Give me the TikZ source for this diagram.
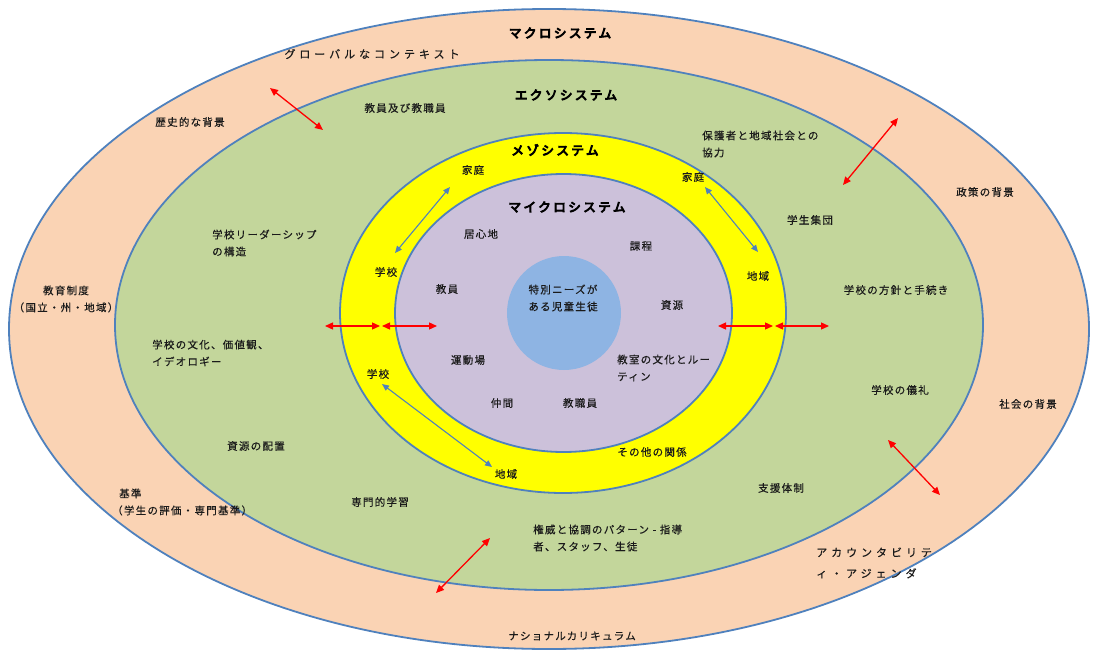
\documentclass[tikz,border=0pt]{standalone}
\usepackage{fontspec}
\setmainfont{Noto Sans CJK JP}
\newfontfamily\jptxt[LetterSpace=12,FakeBold=0.4]{Noto Sans CJK JP}
\newfontfamily\jpwide[LetterSpace=36,FakeBold=0.4]{Noto Sans CJK JP}
\newfontfamily\jphead[LetterSpace=20,FakeBold=7]{Noto Sans CJK JP}
\usetikzlibrary{arrows.meta}
\definecolor{macro}{HTML}{FAD3B4}
\definecolor{exo}{HTML}{C3D69B}
\definecolor{meso}{HTML}{FFFF00}
\definecolor{micro}{HTML}{CCC1DA}
\definecolor{core}{HTML}{8EB4E3}
\definecolor{rim}{HTML}{4F81BD}
\definecolor{ink}{HTML}{1A1A1A}
\begin{document}
\begin{tikzpicture}[x=1pt,y=-1pt,
  ring/.style={draw=rim,line width=1.8pt},
  txt/.style={font=\jptxt\fontsize{10.5}{17}\selectfont,text=ink,inner sep=0pt},
  wide/.style={font=\jpwide\fontsize{11}{21}\selectfont,text=ink,inner sep=0pt},
  head/.style={font=\jphead\fontsize{12.5}{14}\selectfont,text=black,inner sep=0pt},
  redarrow/.style={red,line width=1.3pt,{Triangle[width=7pt,length=8pt]}-{Triangle[width=7pt,length=8pt]}},
  bluearrow/.style={rim,line width=1.1pt,{Triangle[width=6pt,length=7pt]}-{Triangle[width=6pt,length=7pt]}}]
\useasboundingbox (0,0) rectangle (1094,650);
\fill[white] (0,0) rectangle (1094,650);
% rings
\draw[ring,fill=macro] (549,329) ellipse [x radius=540,y radius=320];
\draw[ring,fill=exo] (549,325) ellipse [x radius=434,y radius=265];
\draw[ring,fill=meso] (563,313) ellipse [x radius=223,y radius=180];
\draw[ring,fill=micro] (563.5,313) ellipse [x radius=168.5,y radius=139];
\fill[core] (564,313) circle [radius=57];
% headings
\node[head] (macroT) at (560,33) {マクロシステム};
\node[head] (exoT) at (566,95) {エクソシステム};
\node[head] (mesoT) at (555,150) {メゾシステム};
\node[head] (microT) at (567,207) {マイクロシステム};
% macro texts
\node[wide] (global) at (372,54) {グローバルなコンテキスト};
\node[txt] (hist) at (190,122) {歴史的な背景};
\node[txt] (policy) at (985,192) {政策の背景};
\node[txt,align=center] (edsys) at (66,299) {教育制度\\（国立・州・地域）};
\node[txt] (social) at (1028,404) {社会の背景};
\node[txt,align=left,anchor=west] (stand) at (112,502) {\hspace*{7pt}基準\\（学生の評価・専門基準）};
\node[wide,align=left,anchor=west] (account) at (816,563) {アカウンタビリテ\\ィ・アジェンダ};
\node[txt] (natcur) at (572,636) {ナショナルカリキュラム};
% exo texts
\node[txt] (staff) at (405,108) {教員及び教職員};
\node[txt,align=left,anchor=west] (coop) at (702,144) {保護者と地域社会との\\協力};
\node[txt] (group) at (810,220) {学生集団};
\node[txt,align=left,anchor=west] (lead) at (212,243) {学校リーダーシップ\\の構造};
\node[txt] (proc) at (896,290) {学校の方針と手続き};
\node[txt,align=left,anchor=west] (culture) at (152,353) {学校の文化、価値観、\\イデオロギー};
\node[txt] (rites) at (900,390) {学校の儀礼};
\node[txt] (alloc) at (256,446) {資源の配置};
\node[txt] (support) at (781,488) {支援体制};
\node[txt] (prof) at (380,502) {専門的学習};
\node[txt,align=left,anchor=west] (auth) at (533,538) {権威と協調のパターン - 指導\\者、スタッフ、生徒};
% meso texts
\node[txt] (home1) at (473,170) {家庭};
\node[txt] (home2) at (693,177) {家庭};
\node[txt] (school1) at (386,272) {学校};
\node[txt] (area1) at (758,276) {地域};
\node[txt] (school2) at (378,374) {学校};
\node[txt] (area2) at (506,474) {地域};
\node[txt] (other) at (652,452) {その他の関係};
% micro texts
\node[txt] (comfort) at (481,234) {居心地};
\node[txt] (course) at (641,246) {課程};
\node[txt] (teach) at (447,289) {教員};
\node[txt] (res) at (672,305) {資源};
\node[txt] (play) at (468,360) {運動場};
\node[txt,align=left,anchor=west] (class) at (617,368) {教室の文化とルー\\ティン};
\node[txt] (peer) at (502,403) {仲間};
\node[txt] (clerk) at (580,403) {教職員};
\node[txt,align=center] (child) at (563,298) {特別ニーズが\\ある児童生徒};
% arrow end points
\coordinate (r1a) at (270,88);  \coordinate (r1b) at (323,130);
\coordinate (r2a) at (898,118); \coordinate (r2b) at (843,185);
\coordinate (r3a) at (888,440); \coordinate (r3b) at (940,495);
\coordinate (r4a) at (490,538); \coordinate (r4b) at (436,593);
\coordinate (r5a) at (325,326); \coordinate (r5b) at (380,326);
\coordinate (r6a) at (382,326); \coordinate (r6b) at (437,326);
\coordinate (r7a) at (718,326); \coordinate (r7b) at (773,326);
\coordinate (r8a) at (775,326); \coordinate (r8b) at (829,326);
\coordinate (b1a) at (450,187); \coordinate (b1b) at (395,253);
\coordinate (b2a) at (705,187); \coordinate (b2b) at (758,252);
\coordinate (b3a) at (382,384); \coordinate (b3b) at (492,467);
\foreach \a/\b in {r1a/r1b,r2a/r2b,r3a/r3b,r4a/r4b,r5a/r5b,r6a/r6b,r7a/r7b,r8a/r8b}
  \draw[redarrow] (\a) -- (\b);
\foreach \a/\b in {b1a/b1b,b2a/b2b,b3a/b3b}
  \draw[bluearrow] (\a) -- (\b);
\end{tikzpicture}
\end{document}
